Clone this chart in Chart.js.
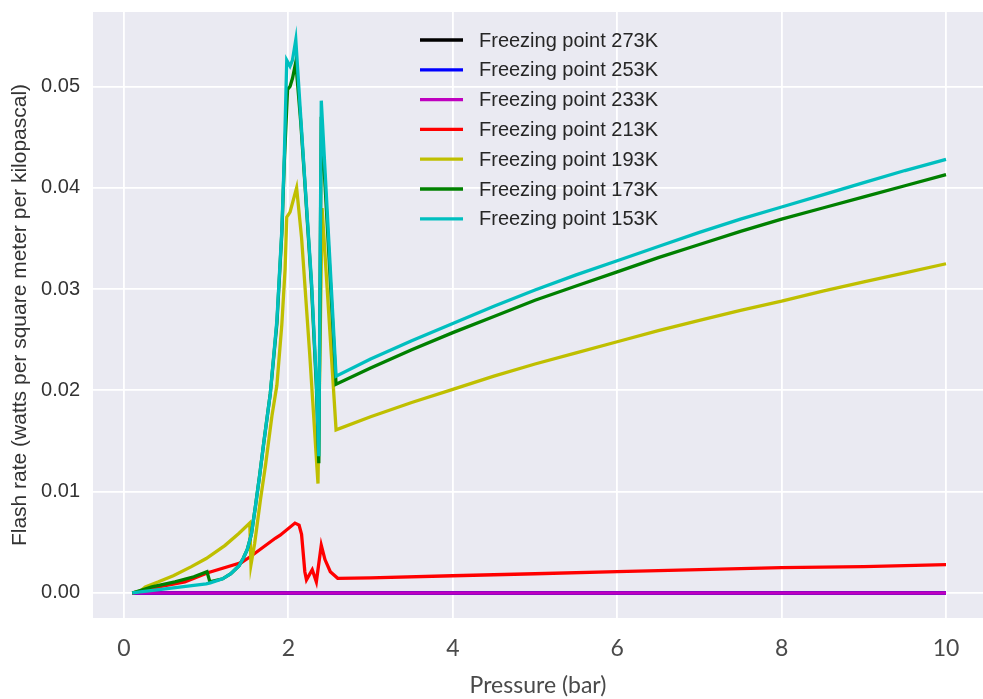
<!DOCTYPE html>
<html>
<head>
    <title>Flash rate vs pressure</title>
    <script src="https://cdn.jsdelivr.net/npm/chart.js"></script>
    <style>
        body {
            margin: 0;
            background-color: #fff;
        }

        #wrap {
            position: relative;
            width: 983px;
            height: 699px;
        }
    </style>
</head>
<body>
<div id="wrap">
    <canvas id="flashChart"></canvas>
</div>

<script>
    // tick labels
    const xTicks = [0, 2, 4, 6, 8, 10];
    const yTicks = [0, 0.01, 0.02, 0.03, 0.04, 0.05];

    // series labels and colours (matplotlib short colour codes)
    const labels = [
        "Freezing point 273K",
        "Freezing point 253K",
        "Freezing point 233K",
        "Freezing point 213K",
        "Freezing point 193K",
        "Freezing point 173K",
        "Freezing point 153K"
    ];
    const lineColors = ["#000000", "#0000ff", "#bf00bf", "#ff0000", "#bfbf00", "#008000", "#00bfbf"];

    // 273K, 253K, 233K stay at zero over the whole range
    const pZero = [0.1, 1, 2, 3, 4, 5, 6, 7, 8, 9, 10];
    const f273 = [0, 0, 0, 0, 0, 0, 0, 0, 0, 0, 0];
    const f253 = [0, 0, 0, 0, 0, 0, 0, 0, 0, 0, 0];
    const f233 = [0, 0, 0, 0, 0, 0, 0, 0, 0, 0, 0];

    const p213 = [0.1, 0.25, 0.42, 0.74, 1.02, 1.43, 1.54, 1.84, 1.9, 2.08, 2.13, 2.16, 2.2, 2.22, 2.29, 2.34, 2.4, 2.445, 2.51, 2.6, 3, 4, 5, 6, 7, 8, 9, 10];
    const f213 = [0, 0.0002, 0.0006, 0.0011, 0.002, 0.003, 0.0036, 0.0054, 0.0057, 0.0069, 0.0067, 0.0058, 0.0021, 0.0013, 0.0023, 0.0011, 0.0047, 0.0033, 0.0021, 0.00145, 0.0015, 0.0017, 0.0019, 0.0021, 0.0023, 0.0025, 0.0026, 0.0028];

    const p193 = [0.1, 0.2, 0.26, 0.42, 0.6, 0.82, 1.0, 1.23, 1.4, 1.53, 1.545, 1.59, 1.66, 1.72, 1.8, 1.86, 1.92, 1.96, 1.98, 2.02, 2.1, 2.16, 2.26, 2.36, 2.41, 2.58,
        3, 3.5, 4, 4.5, 5, 5.5, 6, 6.5, 7, 7.5, 8, 8.5, 9, 9.5, 10];
    const f193 = [0, 0.0002, 0.0006, 0.0011, 0.0017, 0.0026, 0.0034, 0.0047, 0.0059, 0.0069, 0.0028, 0.0049, 0.0092, 0.0125, 0.0175, 0.0205, 0.0265, 0.032, 0.0371, 0.0376, 0.04, 0.0351, 0.0235, 0.0108, 0.038, 0.0161,
        0.0174, 0.0188, 0.0201, 0.0214, 0.0226, 0.0237, 0.0248, 0.0259, 0.0269, 0.0279, 0.0288, 0.0298, 0.0307, 0.0316, 0.0325];

    const p173 = [0.1, 0.34, 0.62, 0.85, 1.01, 1.045, 1.2, 1.3, 1.4, 1.45, 1.5, 1.55, 1.6, 1.65, 1.7, 1.78, 1.86, 1.92, 1.95, 1.99, 2.02, 2.05, 2.09, 2.15, 2.2, 2.28, 2.34, 2.37, 2.4, 2.58,
        3, 3.5, 4, 4.5, 5, 5.5, 6, 6.5, 7, 7.5, 8, 8.5, 9, 9.5, 10];
    const f173 = [0, 0.0006, 0.0011, 0.0016, 0.0021, 0.0011, 0.0014, 0.0019, 0.0027, 0.0034, 0.0043, 0.0058, 0.0086, 0.0116, 0.0148, 0.0197, 0.0266, 0.0355, 0.0425, 0.0497, 0.05, 0.0508, 0.0524, 0.0465, 0.0405, 0.0305, 0.0205, 0.0128, 0.047, 0.0206,
        0.0222, 0.024, 0.0257, 0.0273, 0.0289, 0.0303, 0.0317, 0.0331, 0.0344, 0.0357, 0.0369, 0.038, 0.0391, 0.0402, 0.0413];

    const p153 = [0.1, 0.3, 0.5, 0.7, 0.9, 1.0, 1.05, 1.2, 1.3, 1.4, 1.45, 1.5, 1.55, 1.6, 1.65, 1.7, 1.78, 1.86, 1.92, 1.95, 1.98, 2.02, 2.05, 2.09, 2.15, 2.2, 2.28, 2.34, 2.37, 2.4, 2.58,
        3, 3.5, 4, 4.5, 5, 5.5, 6, 6.5, 7, 7.5, 8, 8.5, 9, 9.5, 10];
    const f153 = [0, 0.0002, 0.0004, 0.0006, 0.0008, 0.0009, 0.001, 0.0014, 0.0019, 0.0027, 0.0034, 0.0043, 0.0058, 0.0086, 0.0116, 0.0148, 0.0197, 0.0269, 0.0358, 0.043, 0.0526, 0.052, 0.0526, 0.0546, 0.047, 0.0407, 0.0309, 0.021, 0.0135, 0.0486, 0.0214,
        0.0231, 0.0249, 0.0266, 0.0283, 0.0299, 0.0314, 0.0328, 0.0342, 0.0356, 0.0369, 0.0381, 0.0393, 0.0405, 0.0417, 0.0428];

    const seriesX = [pZero, pZero, pZero, p213, p193, p173, p153];
    const seriesY = [f273, f253, f233, f213, f193, f173, f153];

    const datasets = labels.map((label, i) => ({
        label: label,
        data: seriesX[i].map((p, j) => ({ x: p, y: seriesY[i][j] })),
        borderColor: lineColors[i],
        backgroundColor: lineColors[i],
        borderWidth: 3.3,
        pointRadius: 0,
        tension: 0,
        fill: false,
        // last series drawn on top, like matplotlib
        order: labels.length - i
    }));

    // seaborn-style grey plot area
    const plotBackground = {
        id: "plotBackground",
        beforeDraw(chart) {
            const { ctx, chartArea } = chart;
            ctx.save();
            ctx.fillStyle = "#eaeaf2";
            ctx.fillRect(chartArea.left, chartArea.top, chartArea.right - chartArea.left, chartArea.bottom - chartArea.top);
            ctx.restore();
        }
    };

    // legend inside the axes, no frame
    const insideLegend = {
        id: "insideLegend",
        afterDatasetsDraw(chart) {
            const ctx = chart.ctx;
            ctx.save();
            ctx.font = "20px 'Liberation Sans', Arial, sans-serif";
            ctx.textBaseline = "middle";
            ctx.textAlign = "left";
            chart.data.datasets.forEach((ds, i) => {
                const y = 40 + i * 29.8;
                ctx.strokeStyle = ds.borderColor;
                ctx.lineWidth = 3.3;
                ctx.beginPath();
                ctx.moveTo(420, y);
                ctx.lineTo(463, y);
                ctx.stroke();
                ctx.fillStyle = "#262626";
                ctx.fillText(ds.label, 479, y + 1);
            });
            ctx.restore();
        }
    };

    new Chart(document.getElementById("flashChart"), {
        type: "line",
        data: { datasets: datasets },
        options: {
            responsive: true,
            maintainAspectRatio: false,
            animation: false,
            layout: { padding: { top: 12, right: 0, bottom: 0, left: 0 } },
            plugins: {
                legend: { display: false },
                tooltip: { enabled: false }
            },
            scales: {
                x: {
                    type: "linear",
                    min: -0.377,
                    max: 10.45,
                    afterBuildTicks: (axis) => { axis.ticks = xTicks.map(v => ({ value: v })); },
                    afterFit: (axis) => {
                        axis.height = 81;
                        axis.paddingLeft = 0;
                        axis.paddingRight = 0;
                    },
                    grid: { color: "#ffffff", lineWidth: 1.8, drawTicks: false },
                    border: { display: false },
                    ticks: {
                        padding: 17,
                        color: "#4a4a4a",
                        font: { family: "Lato", size: 23 }
                    },
                    title: {
                        display: true,
                        text: "Pressure (bar)",
                        color: "#4a4a4a",
                        font: { family: "Lato", size: 23 },
                        padding: { top: 3, bottom: 0 }
                    }
                },
                y: {
                    type: "linear",
                    min: -0.00247,
                    max: 0.05735,
                    afterBuildTicks: (axis) => { axis.ticks = yTicks.map(v => ({ value: v })); },
                    afterFit: (axis) => {
                        axis.width = 93;
                        axis.paddingTop = 0;
                        axis.paddingBottom = 0;
                    },
                    grid: { color: "#ffffff", lineWidth: 1.8, drawTicks: false },
                    border: { display: false },
                    ticks: {
                        padding: 13,
                        color: "#333333",
                        font: { family: "Liberation Sans", size: 20 },
                        callback: (v) => v.toFixed(2)
                    },
                    title: {
                        display: true,
                        text: "Flash rate (watts per square meter per kilopascal)",
                        color: "#333333",
                        font: { family: "Liberation Sans", size: 21 },
                        padding: { top: 8, bottom: 0 }
                    }
                }
            }
        },
        plugins: [plotBackground, insideLegend]
    });
</script>
</body>
</html>
